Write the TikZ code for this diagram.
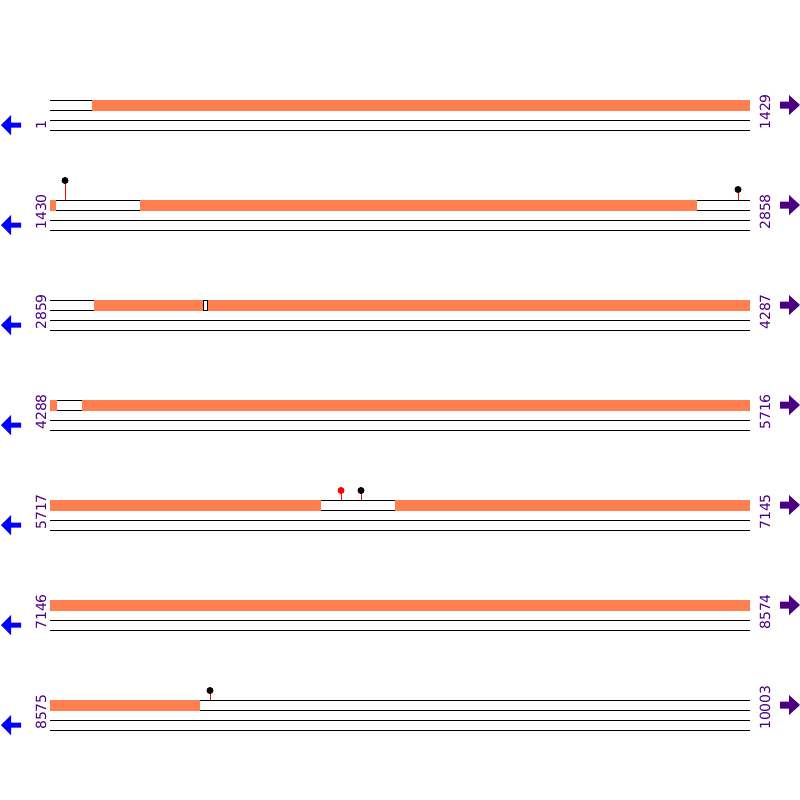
\documentclass[tikz,border=0pt]{standalone}
\usepackage{fontspec}
\setmainfont{DejaVu Sans}
\definecolor{coral}{RGB}{255,127,80}
\definecolor{ind}{RGB}{75,0,130}
\begin{document}
\begin{tikzpicture}[x=1pt,y=-1pt,
  seqline/.style={black,line width=1pt},
  band/.style={fill=coral,draw=none},
  poslabel/.style={text=ind,font=\fontsize{14pt}{14pt}\selectfont,rotate=90,anchor=west,inner sep=0pt},
  larrow/.style={fill=blue,draw=none},
  rarrow/.style={fill=ind,draw=none},
  stem/.style={red,line width=1pt},
  ball/.style={fill=black,draw=none},
  redball/.style={fill=red,draw=none}]
\useasboundingbox (0,0) rectangle (800,800);
\foreach \r/\a/\b in {1/1/1429,2/1430/2858,3/2859/4287,4/4288/5716,5/5717/7145,6/7146/8574,7/8575/10003}{
  \pgfmathsetmacro{\yy}{100*\r}
  \draw[seqline] (50,\yy) -- (750,\yy);
  \draw[seqline] (50,\yy+10) -- (750,\yy+10);
  \draw[seqline] (50,\yy+20) -- (750,\yy+20);
  \draw[seqline] (50,\yy+30) -- (750,\yy+30);
  \node[poslabel] (l\r) at (41,\yy+30) {\a};
  \node[poslabel] (r\r) at (765,\yy+30) {\b};
  \fill[larrow] (1,\yy+25) -- (11,\yy+15) -- (11,\yy+22.5) -- (21,\yy+22.5) -- (21,\yy+27.5) -- (11,\yy+27.5) -- (11,\yy+35) -- cycle;
  \fill[rarrow] (800,\yy+5) -- (789,\yy-5) -- (789,\yy+1.5) -- (780,\yy+1.5) -- (780,\yy+8.5) -- (789,\yy+8.5) -- (789,\yy+15) -- cycle;
}
% row 1
\fill[band] (92,99.5) rectangle (750,110.5);
% row 2
\fill[band] (50,199.5) rectangle (56,210.5);
\fill[band] (140,199.5) rectangle (697,210.5);
% row 3
\fill[band] (94,299.5) rectangle (203,310.5);
\fill[band] (208,299.5) rectangle (750,310.5);
\draw[black,line width=1pt] (203.5,300) -- (203.5,310) (207.5,300) -- (207.5,310);
% row 4
\fill[band] (50,399.5) rectangle (57,410.5);
\fill[band] (82,399.5) rectangle (750,410.5);
% row 5
\fill[band] (50,499.5) rectangle (321,510.5);
\fill[band] (395,499.5) rectangle (750,510.5);
% row 6
\fill[band] (50,599.5) rectangle (750,610.5);
% row 7
\fill[band] (50,699.5) rectangle (200,710.5);
% lollipops
\draw[stem] (65,200) -- (65,181);
\fill[ball] (65,180.5) circle (3.5);
\draw[stem] (738,200) -- (738,190);
\fill[ball] (738,189.5) circle (3.5);
\draw[stem] (341,500) -- (341,491);
\fill[redball] (341,490.5) circle (3.5);
\draw[stem] (361,500) -- (361,491);
\fill[ball] (361,490.5) circle (3.5);
\draw[stem] (210,700) -- (210,691);
\fill[ball] (210,690.5) circle (3.5);
\end{tikzpicture}
\end{document}
